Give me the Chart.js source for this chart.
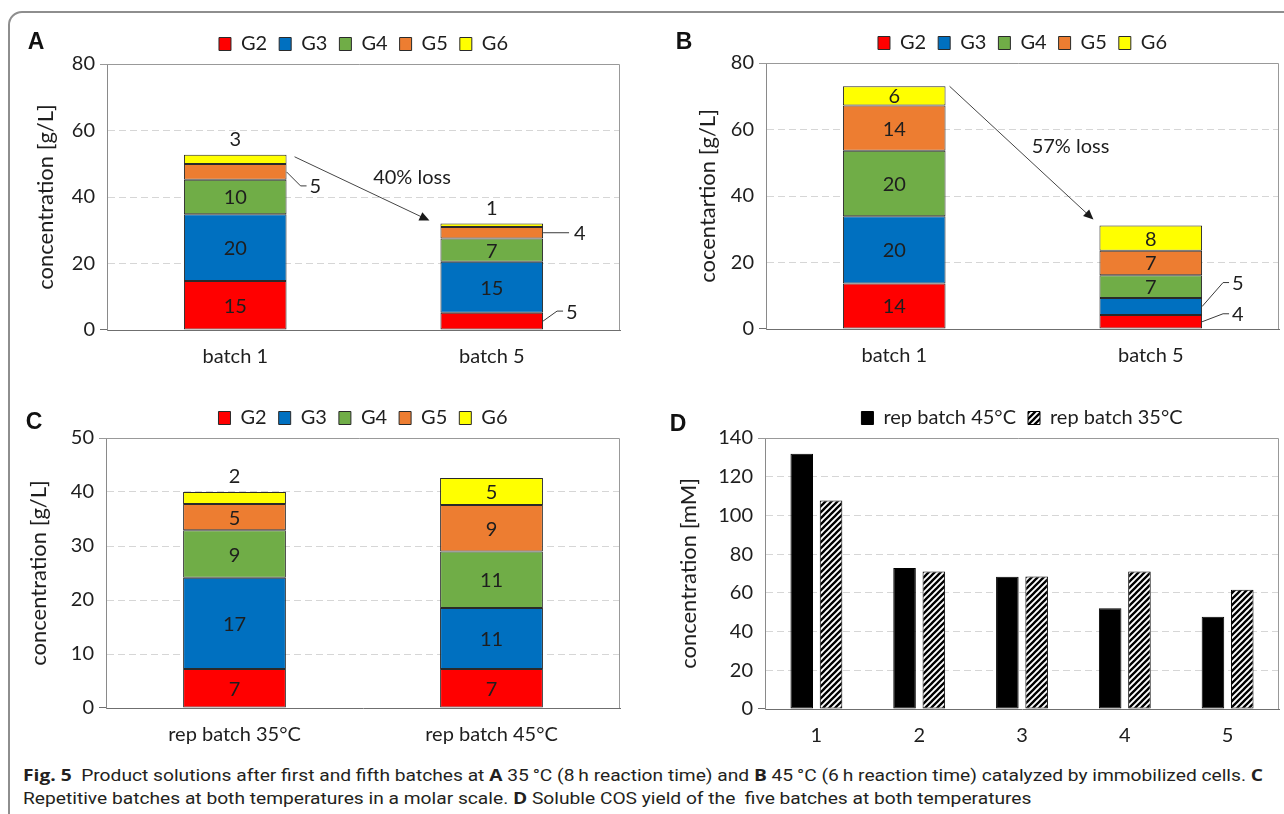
<!DOCTYPE html>
<html>
<head>
<meta charset="utf-8">
<title>Fig. 5</title>
<script src="https://cdn.jsdelivr.net/npm/chart.js@4.4.1/dist/chart.umd.min.js"></script>
<style>
  body { margin: 0; background: #fff; width: 1284px; height: 814px; overflow: hidden; position: relative; }
  #frame { position: absolute; left: 8px; top: 11px; width: 1320px; height: 900px; border: 2px solid #8e8e8e; border-radius: 14px; }
  canvas { position: absolute; }
  .letter { position: absolute; font: bold 23px "Liberation Sans", Arial, sans-serif; color: #111; transform: translate(-50%, -50%); }
  .cap { position: absolute; left: 23px; white-space: nowrap; font-family: "Liberation Sans Narrow", Roboto, sans-serif; font-size: 16px; line-height: 20px; color: #231f20; transform-origin: 0 50%; }
  .cap b { font-family: "Open Sans", sans-serif; font-weight: 700; }
</style>
</head>
<body>
<div id="frame"></div>

<canvas id="chartA" width="620" height="360" style="left:10px;top:20px"></canvas>
<canvas id="chartB" width="634" height="360" style="left:650px;top:20px"></canvas>
<canvas id="chartC" width="620" height="360" style="left:10px;top:395px"></canvas>
<canvas id="chartD" width="634" height="360" style="left:650px;top:395px"></canvas>

<div class="letter" style="left:36px;top:41px">A</div>
<div class="letter" style="left:684px;top:41px">B</div>
<div class="letter" style="left:34px;top:421px">C</div>
<div class="letter" style="left:678px;top:423px">D</div>

<div class="cap" id="cap1" style="top:765px"><b>Fig. 5</b>&nbsp; Product solutions after first and fifth batches at <b>A</b> 35&#8201;°C (8&#8201;h reaction time) and <b>B</b> 45&#8201;°C (6&#8201;h reaction time) catalyzed by immobilized cells. <b>C</b></div>
<div class="cap" id="cap2" style="top:788px">Repetitive batches at both temperatures in a molar scale. <b>D</b> Soluble COS yield of the&nbsp; five batches at both temperatures</div>

<script>
// oligosaccharide fractions, stacked bottom to top
const groupNames = ['G2', 'G3', 'G4', 'G5', 'G6'];

// A: 35 °C, g/L
const batchesA = ['batch 1', 'batch 5'];
const batch1A = [14.7, 20.1, 10.4, 4.7, 2.8];
const batch5A = [5.2, 15.3, 7.0, 3.5, 1.0];

// B: 45 °C, g/L
const batchesB = ['batch 1', 'batch 5'];
const batch1B = [13.7, 20.2, 19.7, 13.6, 5.8];
const batch5B = [4.2, 5.1, 6.9, 7.3, 7.6];

// C: repetitive batches
const batchesC = ['rep batch 35°C', 'rep batch 45°C'];
const rep35C = [7.2, 16.9, 8.8, 4.9, 2.2];
const rep45C = [7.2, 11.3, 10.5, 8.6, 5.0];

// D: soluble COS yield, mM
const cyclesD = ['1', '2', '3', '4', '5'];
const rep45D = [131.9, 72.8, 68.3, 52.0, 47.6];
const rep35D = [107.7, 71.0, 68.5, 71.0, 61.6];

const FONT = 'Lato, "Open Sans", sans-serif';
const FSIZE = 20;
const TSIZE = 22;
const INK = '#1e1e1e';
const groupColors = ['#ff0000', '#0070c0', '#70ad47', '#ed7d31', '#ffff00'];
const LEG_PAD = 12;

// turn page coords of the wanted plot box into chart.js paddings
function layoutFor(g) {
  const padLeft = g.titleX - (4 + TSIZE * 0.6) - g.box.left;
  return {
    left: padLeft,
    right: g.box.left + g.box.width - g.area.right,
    top: Math.max(0, g.area.top - g.box.top - 10 - FSIZE - LEG_PAD),
    yWidth: g.area.left - g.box.left - padLeft,
    xHeight: g.box.top + g.box.height - g.area.bottom
  };
}

function xScale(h, stacked) {
  return {
    stacked: stacked,
    grid: { display: false, drawTicks: false },
    border: { color: '#6f6f6f', width: 1 },
    ticks: { font: { family: FONT, size: FSIZE }, color: INK, padding: 15 },
    afterFit: s => { s.height = h; }
  };
}

function yScale(max, step, title, w, stacked) {
  return {
    stacked: stacked,
    min: 0, max: max,
    ticks: { stepSize: step, font: { family: FONT, size: FSIZE }, color: INK, padding: 12 },
    grid: {
      drawTicks: false,
      color: c => (c.tick && (c.tick.value === 0 || c.tick.value === max)) ? 'rgba(0,0,0,0)' : '#d6d6d6'
    },
    border: { color: '#8a8a8a', width: 1, dash: [7, 4] },
    title: { display: true, text: title, font: { family: FONT, size: TSIZE }, color: INK, padding: { top: 4, bottom: 4 } },
    afterFit: s => { s.width = w; }
  };
}

function legendOpts() {
  return {
    position: 'top', fullSize: false,
    labels: { boxWidth: 12, boxHeight: 13, padding: LEG_PAD, font: { family: FONT, size: FSIZE }, color: INK }
  };
}

function stackSets(cols) {
  return groupNames.map((g, i) => ({
    label: g,
    data: cols.map(c => c[i]),
    backgroundColor: groupColors[i],
    borderColor: '#2a2a2a',
    borderWidth: 1,
    borderSkipped: false,
    barPercentage: 0.4,
    categoryPercentage: 1
  }));
}

function text(ctx, s, x, y, align) {
  ctx.font = FSIZE + 'px ' + FONT;
  ctx.fillStyle = INK;
  ctx.textAlign = align || 'center';
  ctx.textBaseline = 'middle';
  ctx.fillText(s, x, y);
}

// frame, segment values, leader lines and the loss arrow
function decor(spec, arrow) {
  return {
    id: 'decor',
    afterDatasetsDraw(chart) {
      const ctx = chart.ctx;
      const a = chart.chartArea;
      const t = Math.round(a.top) + 0.5, r = Math.round(a.right) - 0.5, b = Math.round(a.bottom) - 0.5;
      ctx.save();
      ctx.lineWidth = 1;
      ctx.strokeStyle = '#999';
      ctx.beginPath();
      ctx.moveTo(a.left - 7, t);
      ctx.lineTo(r, t);
      ctx.lineTo(r, a.bottom);
      ctx.stroke();
      ctx.strokeStyle = '#6f6f6f';
      ctx.beginPath();
      ctx.moveTo(a.left - 7, b);
      ctx.lineTo(a.left, b);
      ctx.stroke();

      if (spec) {
        chart.data.datasets.forEach((ds, di) => {
          chart.getDatasetMeta(di).data.forEach((bar, bi) => {
            const p = bar.getProps(['x', 'y', 'base', 'width'], true);
            const top = Math.min(p.y, p.base), bottom = Math.max(p.y, p.base);
            const mid = (top + bottom) / 2;
            const right = p.x + p.width / 2;
            const s = String(Math.round(ds.data[bi]));
            const place = spec[di + '-' + bi] || { pos: 'in' };
            if (place.pos === 'in') {
              text(ctx, s, p.x, mid + 1);
            } else if (place.pos === 'top') {
              text(ctx, s, p.x, top - 15);
            } else {
              const ly = mid + place.dy;
              ctx.strokeStyle = '#3a3a3a';
              ctx.beginPath();
              ctx.moveTo(right, mid);
              if (place.dy) {
                ctx.lineTo(right + place.dx, ly);
                ctx.lineTo(right + place.dx + 6, ly);
              } else {
                ctx.lineTo(right + place.dx, ly);
              }
              ctx.stroke();
              text(ctx, s, right + place.dx + (place.dy ? 9 : 5), ly + 1, 'left');
            }
          });
        });
      }

      if (arrow) {
        const tops = chart.getDatasetMeta(chart.data.datasets.length - 1).data;
        const b0 = tops[0].getProps(['x', 'y', 'width'], true);
        const b1 = tops[1].getProps(['x', 'y', 'width'], true);
        const x0 = b0.x + b0.width / 2 + arrow.start[0], y0 = b0.y + arrow.start[1];
        const x1 = b1.x - b1.width / 2 + arrow.end[0], y1 = b1.y + arrow.end[1];
        const ang = Math.atan2(y1 - y0, x1 - x0);
        ctx.strokeStyle = '#454545';
        ctx.fillStyle = '#1a1a1a';
        ctx.beginPath();
        ctx.moveTo(x0, y0);
        ctx.lineTo(x1 - 8 * Math.cos(ang), y1 - 8 * Math.sin(ang));
        ctx.stroke();
        ctx.beginPath();
        ctx.moveTo(x1, y1);
        ctx.lineTo(x1 - 10 * Math.cos(ang) + 4.5 * Math.sin(ang), y1 - 10 * Math.sin(ang) - 4.5 * Math.cos(ang));
        ctx.lineTo(x1 - 10 * Math.cos(ang) - 4.5 * Math.sin(ang), y1 - 10 * Math.sin(ang) + 4.5 * Math.cos(ang));
        ctx.closePath();
        ctx.fill();
        text(ctx, arrow.text, (x0 + x1) / 2 + arrow.textAt[0], (y0 + y1) / 2 + arrow.textAt[1]);
      }
      ctx.restore();
    }
  };
}

function stackedChart(id, cats, cols, yMax, yStep, yTitle, geo, spec, arrow) {
  const pad = layoutFor(geo);
  return new Chart(document.getElementById(id), {
    type: 'bar',
    data: { labels: cats, datasets: stackSets(cols) },
    options: {
      responsive: false,
      animation: false,
      layout: { padding: { left: pad.left, right: pad.right, top: pad.top, bottom: 0 } },
      plugins: { legend: legendOpts(), tooltip: { enabled: false } },
      scales: { x: xScale(pad.xHeight, true), y: yScale(yMax, yStep, yTitle, pad.yWidth, true) }
    },
    plugins: [decor(spec, arrow)]
  });
}

stackedChart('chartA', batchesA, [batch1A, batch5A], 80, 20, 'concentration [g/L]',
  { box: { left: 10, top: 20, width: 620, height: 360 }, area: { left: 107, top: 64, right: 620, bottom: 330 }, titleX: 46 },
  {
    '4-0': { pos: 'top' },
    '3-0': { pos: 'right', dx: 14, dy: 14 },
    '4-1': { pos: 'top' },
    '3-1': { pos: 'right', dx: 26, dy: 0 },
    '0-1': { pos: 'right', dx: 14, dy: -10 }
  },
  { start: [8, 2], end: [-11, -3], text: '40% loss', textAt: [50, -11] });

stackedChart('chartB', batchesB, [batch1B, batch5B], 80, 20, 'cocentartion [g/L]',
  { box: { left: 650, top: 20, width: 634, height: 360 }, area: { left: 766, top: 63, right: 1279, bottom: 329 }, titleX: 708 },
  {
    '1-1': { pos: 'right', dx: 21, dy: -24 },
    '0-1': { pos: 'right', dx: 21, dy: -8 }
  },
  { start: [4, 0], end: [-6, -6], text: '57% loss', textAt: [49, -6] });

stackedChart('chartC', batchesC, [rep35C, rep45C], 50, 10, 'concentration [g/L]',
  { box: { left: 10, top: 395, width: 620, height: 360 }, area: { left: 106, top: 438, right: 620, bottom: 708 }, titleX: 39 },
  { '4-0': { pos: 'top' } },
  null);

// D: plain vs hatched bars
const tile = document.createElement('canvas');
tile.width = tile.height = 6;
const tg = tile.getContext('2d');
tg.fillStyle = '#fff';
tg.fillRect(0, 0, 6, 6);
tg.strokeStyle = '#000';
tg.lineWidth = 2.3;
tg.beginPath();
tg.moveTo(-1, 7); tg.lineTo(7, -1);
tg.moveTo(-1, 1); tg.lineTo(1, -1);
tg.moveTo(5, 7); tg.lineTo(7, 5);
tg.stroke();
const hatch = tg.createPattern(tile, 'repeat');

const padD = layoutFor({ box: { left: 650, top: 395, width: 634, height: 360 }, area: { left: 765, top: 438, right: 1279, bottom: 709 }, titleX: 689 });
new Chart(document.getElementById('chartD'), {
  type: 'bar',
  data: {
    labels: cyclesD,
    datasets: [
      { label: 'rep batch 45°C', data: rep45D, backgroundColor: '#000', borderColor: '#000', borderWidth: 1, borderSkipped: false, barPercentage: 0.77, categoryPercentage: 0.57 },
      { label: 'rep batch 35°C', data: rep35D, backgroundColor: hatch, borderColor: '#000', borderWidth: 1, borderSkipped: false, barPercentage: 0.77, categoryPercentage: 0.57 }
    ]
  },
  options: {
    responsive: false,
    animation: false,
    layout: { padding: { left: padD.left, right: padD.right, top: padD.top, bottom: 0 } },
    plugins: { legend: legendOpts(), tooltip: { enabled: false } },
    scales: { x: xScale(padD.xHeight, false), y: yScale(140, 20, 'concentration [mM]', padD.yWidth, false) }
  },
  plugins: [decor(null, null)]
});

// squeeze the caption to the width of the original lines
const cap1 = document.getElementById('cap1');
const cap2 = document.getElementById('cap2');
const k = 1240 / cap1.getBoundingClientRect().width;
cap1.style.transform = 'scaleX(' + k + ')';
cap2.style.transform = 'scaleX(' + k + ')';
</script>
</body>
</html>
